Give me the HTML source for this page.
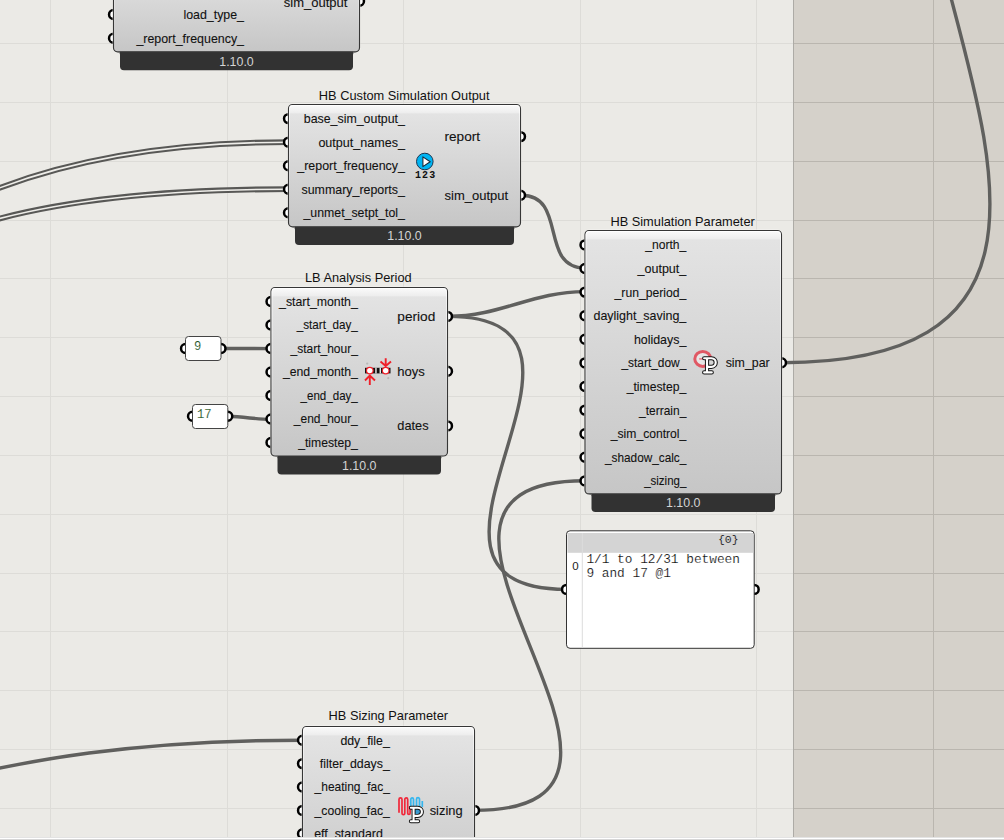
<!DOCTYPE html>
<html><head><meta charset="utf-8"><title>Grasshopper canvas</title>
<style>html,body{margin:0;padding:0;background:#ebeae6;overflow:hidden}svg{display:block}</style>
</head><body>
<svg width="1004" height="840" viewBox="0 0 1004 840">
<defs>
<linearGradient id="bg" x1="0" y1="0" x2="0" y2="1">
<stop offset="0" stop-color="#f6f6f6"/>
<stop offset="0.05" stop-color="#e4e4e4"/>
<stop offset="1" stop-color="#c8c8c8"/>
</linearGradient>
</defs>
<defs><linearGradient id="g1" gradientUnits="userSpaceOnUse" x1="0" y1="-40.00" x2="0" y2="51.80"><stop offset="0" stop-color="#fbfbfb"/><stop offset="0.0871" stop-color="#eeeeee"/><stop offset="0.1035" stop-color="#e3e3e3"/><stop offset="1" stop-color="#c6c6c6"/></linearGradient><linearGradient id="h1" gradientUnits="userSpaceOnUse" x1="0" y1="-40.00" x2="0" y2="51.80"><stop offset="0" stop-color="#fff" stop-opacity="1"/><stop offset="0.1307" stop-color="#fff" stop-opacity="0.7"/><stop offset="1" stop-color="#fff" stop-opacity="0"/></linearGradient><linearGradient id="g2" gradientUnits="userSpaceOnUse" x1="0" y1="104.50" x2="0" y2="226.80"><stop offset="0" stop-color="#fbfbfb"/><stop offset="0.0654" stop-color="#eeeeee"/><stop offset="0.0777" stop-color="#e3e3e3"/><stop offset="1" stop-color="#c6c6c6"/></linearGradient><linearGradient id="h2" gradientUnits="userSpaceOnUse" x1="0" y1="104.50" x2="0" y2="226.80"><stop offset="0" stop-color="#fff" stop-opacity="1"/><stop offset="0.0981" stop-color="#fff" stop-opacity="0.7"/><stop offset="1" stop-color="#fff" stop-opacity="0"/></linearGradient><linearGradient id="g3" gradientUnits="userSpaceOnUse" x1="0" y1="287.50" x2="0" y2="456.00"><stop offset="0" stop-color="#fbfbfb"/><stop offset="0.0475" stop-color="#eeeeee"/><stop offset="0.0564" stop-color="#e3e3e3"/><stop offset="1" stop-color="#c6c6c6"/></linearGradient><linearGradient id="h3" gradientUnits="userSpaceOnUse" x1="0" y1="287.50" x2="0" y2="456.00"><stop offset="0" stop-color="#fff" stop-opacity="1"/><stop offset="0.0712" stop-color="#fff" stop-opacity="0.7"/><stop offset="1" stop-color="#fff" stop-opacity="0"/></linearGradient><linearGradient id="g4" gradientUnits="userSpaceOnUse" x1="0" y1="230.50" x2="0" y2="493.90"><stop offset="0" stop-color="#fbfbfb"/><stop offset="0.0304" stop-color="#eeeeee"/><stop offset="0.0361" stop-color="#e3e3e3"/><stop offset="1" stop-color="#c6c6c6"/></linearGradient><linearGradient id="h4" gradientUnits="userSpaceOnUse" x1="0" y1="230.50" x2="0" y2="493.90"><stop offset="0" stop-color="#fff" stop-opacity="1"/><stop offset="0.0456" stop-color="#fff" stop-opacity="0.7"/><stop offset="1" stop-color="#fff" stop-opacity="0"/></linearGradient><linearGradient id="g5" gradientUnits="userSpaceOnUse" x1="0" y1="726.50" x2="0" y2="900.00"><stop offset="0" stop-color="#fbfbfb"/><stop offset="0.0461" stop-color="#eeeeee"/><stop offset="0.0548" stop-color="#e3e3e3"/><stop offset="1" stop-color="#c6c6c6"/></linearGradient><linearGradient id="h5" gradientUnits="userSpaceOnUse" x1="0" y1="726.50" x2="0" y2="900.00"><stop offset="0" stop-color="#fff" stop-opacity="1"/><stop offset="0.0692" stop-color="#fff" stop-opacity="0.7"/><stop offset="1" stop-color="#fff" stop-opacity="0"/></linearGradient></defs>
<rect x="0" y="0" width="1004" height="840" fill="#ebeae6"/>
<rect x="793" y="0" width="211" height="840" fill="#d5d1ca"/>
<rect x="50" y="0" width="1" height="840" fill="#dddcd8"/>
<rect x="227" y="0" width="1" height="840" fill="#dddcd8"/>
<rect x="403" y="0" width="1" height="840" fill="#dddcd8"/>
<rect x="580" y="0" width="1" height="840" fill="#dddcd8"/>
<rect x="756" y="0" width="1" height="840" fill="#dddcd8"/>
<rect x="933" y="0" width="1" height="840" fill="#bab6af"/>
<rect x="0" y="43" width="793" height="1" fill="#dddcd8"/>
<rect x="793" y="43" width="211" height="1" fill="#bab6af"/>
<rect x="0" y="102" width="793" height="1" fill="#dddcd8"/>
<rect x="793" y="102" width="211" height="1" fill="#bab6af"/>
<rect x="0" y="161" width="793" height="1" fill="#dddcd8"/>
<rect x="793" y="161" width="211" height="1" fill="#bab6af"/>
<rect x="0" y="220" width="793" height="1" fill="#dddcd8"/>
<rect x="793" y="220" width="211" height="1" fill="#bab6af"/>
<rect x="0" y="278" width="793" height="1" fill="#dddcd8"/>
<rect x="793" y="278" width="211" height="1" fill="#bab6af"/>
<rect x="0" y="337" width="793" height="1" fill="#dddcd8"/>
<rect x="793" y="337" width="211" height="1" fill="#bab6af"/>
<rect x="0" y="396" width="793" height="1" fill="#dddcd8"/>
<rect x="793" y="396" width="211" height="1" fill="#bab6af"/>
<rect x="0" y="455" width="793" height="1" fill="#dddcd8"/>
<rect x="793" y="455" width="211" height="1" fill="#bab6af"/>
<rect x="0" y="514" width="793" height="1" fill="#dddcd8"/>
<rect x="793" y="514" width="211" height="1" fill="#bab6af"/>
<rect x="0" y="573" width="793" height="1" fill="#dddcd8"/>
<rect x="793" y="573" width="211" height="1" fill="#bab6af"/>
<rect x="0" y="631" width="793" height="1" fill="#dddcd8"/>
<rect x="793" y="631" width="211" height="1" fill="#bab6af"/>
<rect x="0" y="690" width="793" height="1" fill="#dddcd8"/>
<rect x="793" y="690" width="211" height="1" fill="#bab6af"/>
<rect x="0" y="749" width="793" height="1" fill="#dddcd8"/>
<rect x="793" y="749" width="211" height="1" fill="#bab6af"/>
<rect x="0" y="808" width="793" height="1" fill="#dddcd8"/>
<rect x="793" y="808" width="211" height="1" fill="#bab6af"/>
<rect x="793" y="0" width="1" height="840" fill="#adaba6"/>
<path d="M521.40,195.20 C567.70,195.20 538.70,268.00 585.00,268.00" fill="none" stroke="#60605e" stroke-width="3.4"/>
<path d="M448.00,316.40 C501.00,316.40 532.00,291.60 585.00,291.60" fill="none" stroke="#60605e" stroke-width="3.4"/>
<path d="M448.00,316.40 C646.30,316.40 364.00,589.40 566.50,589.40" fill="none" stroke="#60605e" stroke-width="3.4"/>
<path d="M474.50,810.40 C718.50,810.40 341.00,480.80 585.00,480.80" fill="none" stroke="#60605e" stroke-width="3.4"/>
<path d="M782.00,362.70 C1099.70,362.70 970.45,109.35 926.95,-100.18" fill="none" stroke="#60605e" stroke-width="3.4"/>
<path d="M-107.50,787.30 C-54.40,787.30 46.30,740.20 302.50,740.20" fill="none" stroke="#60605e" stroke-width="3.4"/>
<path d="M-113.40,251.60 C-113.40,251.60 -5.40,142.20 288.00,142.20" fill="none" stroke="#585856" stroke-width="5.8"/>
<path d="M-113.40,251.60 C-113.40,251.60 -5.40,142.20 288.00,142.20" fill="none" stroke="#eeede9" stroke-width="1.6"/>
<path d="M-124.50,276.50 C-121.30,276.50 -58.00,189.20 288.00,189.20" fill="none" stroke="#585856" stroke-width="5.8"/>
<path d="M-124.50,276.50 C-121.30,276.50 -58.00,189.20 288.00,189.20" fill="none" stroke="#eeede9" stroke-width="1.6"/>
<path d="M221.00,348.50 C240.00,348.50 252.00,348.60 271.00,348.60" fill="none" stroke="#60605e" stroke-width="3.4"/>
<path d="M227.80,416.30 C245.00,416.80 255.00,419.20 271.00,419.50" fill="none" stroke="#60605e" stroke-width="3.4"/>
<circle cx="113.50" cy="-9.20" r="4.45" fill="#ffffff" stroke="#000" stroke-width="2.5"/>
<circle cx="113.50" cy="14.50" r="4.45" fill="#ffffff" stroke="#000" stroke-width="2.5"/>
<circle cx="113.50" cy="38.20" r="4.45" fill="#ffffff" stroke="#000" stroke-width="2.5"/>
<circle cx="359.50" cy="1.20" r="4.45" fill="#ffffff" stroke="#000" stroke-width="2.5"/>
<path d="M353.00,51.80 L353.00,54.50 Q353.00,52.30 355.20,52.30 L355.20,51.80 Z" fill="#323232"/>
<path d="M120.00,51.80 L120.00,54.50 Q120.00,52.30 117.80,52.30 L117.80,51.80 Z" fill="#323232"/>
<rect x="113.00" y="-40.50" width="247.00" height="92.80" rx="4.5" fill="none" stroke="#faf9f5" stroke-opacity="0.7" stroke-width="1"/>
<path d="M120.00,47.80 L353.00,47.80 L353.00,66.30 Q353.00,70.30 349.00,70.30 L124.00,70.30 Q120.00,70.30 120.00,66.30 Z" fill="#323232"/>
<rect x="113.50" y="-40.00" width="246.00" height="91.80" rx="4" fill="url(#g1)" stroke="#363636" stroke-width="1.15"/>
<rect x="114.50" y="-39.00" width="244.00" height="89.80" rx="3" fill="none" stroke="url(#h1)" stroke-width="1"/>
<text x="244.00" y="-4.80" font-family='"Liberation Sans", sans-serif' font-size="13.2" fill="#111" stroke="#111" stroke-width="0.1" text-anchor="end" textLength="0.00" lengthAdjust="spacingAndGlyphs"></text>
<text x="244.00" y="18.90" font-family='"Liberation Sans", sans-serif' font-size="13.2" fill="#111" stroke="#111" stroke-width="0.1" text-anchor="end" textLength="60.60" lengthAdjust="spacingAndGlyphs">load_type_</text>
<text x="244.00" y="42.60" font-family='"Liberation Sans", sans-serif' font-size="13.2" fill="#111" stroke="#111" stroke-width="0.1" text-anchor="end" textLength="107.60" lengthAdjust="spacingAndGlyphs">_report_frequency_</text>
<text x="283.80" y="6.60" font-family='"Liberation Sans", sans-serif' font-size="13.2" fill="#111" stroke="#111" stroke-width="0.1" text-anchor="start" textLength="63.60" lengthAdjust="spacingAndGlyphs">sim_output</text>
<text x="236.50" y="65.50" font-family='"Liberation Sans", sans-serif' font-size="12.4" fill="#d4d4d4" stroke="#d4d4d4" stroke-width="0" text-anchor="middle">1.10.0</text>
<text x="404.20" y="99.50" font-family='"Liberation Sans", sans-serif' font-size="12.8" fill="#111" stroke="#111" stroke-width="0" text-anchor="middle">HB Custom Simulation Output</text>
<circle cx="288.50" cy="118.60" r="4.45" fill="#ffffff" stroke="#000" stroke-width="2.5"/>
<circle cx="288.50" cy="142.15" r="4.45" fill="#ffffff" stroke="#000" stroke-width="2.5"/>
<circle cx="288.50" cy="165.70" r="4.45" fill="#ffffff" stroke="#000" stroke-width="2.5"/>
<circle cx="288.50" cy="189.25" r="4.45" fill="#ffffff" stroke="#000" stroke-width="2.5"/>
<circle cx="288.50" cy="212.80" r="4.45" fill="#ffffff" stroke="#000" stroke-width="2.5"/>
<circle cx="520.50" cy="136.60" r="4.45" fill="#ffffff" stroke="#000" stroke-width="2.5"/>
<circle cx="520.50" cy="195.20" r="4.45" fill="#ffffff" stroke="#000" stroke-width="2.5"/>
<path d="M514.00,226.80 L514.00,229.50 Q514.00,227.30 516.20,227.30 L516.20,226.80 Z" fill="#323232"/>
<path d="M295.00,226.80 L295.00,229.50 Q295.00,227.30 292.80,227.30 L292.80,226.80 Z" fill="#323232"/>
<rect x="288.00" y="104.00" width="233.00" height="123.30" rx="4.5" fill="none" stroke="#faf9f5" stroke-opacity="0.7" stroke-width="1"/>
<path d="M295.00,222.80 L514.00,222.80 L514.00,241.00 Q514.00,245.00 510.00,245.00 L299.00,245.00 Q295.00,245.00 295.00,241.00 Z" fill="#323232"/>
<rect x="288.50" y="104.50" width="232.00" height="122.30" rx="4" fill="url(#g2)" stroke="#363636" stroke-width="1.15"/>
<rect x="289.50" y="105.50" width="230.00" height="120.30" rx="3" fill="none" stroke="url(#h2)" stroke-width="1"/>
<text x="404.90" y="123.00" font-family='"Liberation Sans", sans-serif' font-size="13.2" fill="#111" stroke="#111" stroke-width="0.1" text-anchor="end" textLength="101.10" lengthAdjust="spacingAndGlyphs">base_sim_output_</text>
<text x="404.90" y="146.55" font-family='"Liberation Sans", sans-serif' font-size="13.2" fill="#111" stroke="#111" stroke-width="0.1" text-anchor="end" textLength="86.50" lengthAdjust="spacingAndGlyphs">output_names_</text>
<text x="404.90" y="170.10" font-family='"Liberation Sans", sans-serif' font-size="13.2" fill="#111" stroke="#111" stroke-width="0.1" text-anchor="end" textLength="107.60" lengthAdjust="spacingAndGlyphs">_report_frequency_</text>
<text x="404.90" y="193.65" font-family='"Liberation Sans", sans-serif' font-size="13.2" fill="#111" stroke="#111" stroke-width="0.1" text-anchor="end" textLength="103.40" lengthAdjust="spacingAndGlyphs">summary_reports_</text>
<text x="404.90" y="217.20" font-family='"Liberation Sans", sans-serif' font-size="13.2" fill="#111" stroke="#111" stroke-width="0.1" text-anchor="end" textLength="101.40" lengthAdjust="spacingAndGlyphs">_unmet_setpt_tol_</text>
<text x="444.50" y="141.00" font-family='"Liberation Sans", sans-serif' font-size="13.2" fill="#111" stroke="#111" stroke-width="0.1" text-anchor="start" textLength="35.60" lengthAdjust="spacingAndGlyphs">report</text>
<text x="444.50" y="199.60" font-family='"Liberation Sans", sans-serif' font-size="13.2" fill="#111" stroke="#111" stroke-width="0.1" text-anchor="start" textLength="63.60" lengthAdjust="spacingAndGlyphs">sim_output</text>
<text x="404.50" y="240.20" font-family='"Liberation Sans", sans-serif' font-size="12.4" fill="#d4d4d4" stroke="#d4d4d4" stroke-width="0" text-anchor="middle">1.10.0</text>
<text x="358.30" y="281.80" font-family='"Liberation Sans", sans-serif' font-size="12.8" fill="#111" stroke="#111" stroke-width="0" text-anchor="middle">LB Analysis Period</text>
<circle cx="271.00" cy="301.50" r="4.45" fill="#ffffff" stroke="#000" stroke-width="2.5"/>
<circle cx="271.00" cy="325.00" r="4.45" fill="#ffffff" stroke="#000" stroke-width="2.5"/>
<circle cx="271.00" cy="348.50" r="4.45" fill="#ffffff" stroke="#000" stroke-width="2.5"/>
<circle cx="271.00" cy="372.00" r="4.45" fill="#ffffff" stroke="#000" stroke-width="2.5"/>
<circle cx="271.00" cy="395.50" r="4.45" fill="#ffffff" stroke="#000" stroke-width="2.5"/>
<circle cx="271.00" cy="419.00" r="4.45" fill="#ffffff" stroke="#000" stroke-width="2.5"/>
<circle cx="271.00" cy="442.50" r="4.45" fill="#ffffff" stroke="#000" stroke-width="2.5"/>
<circle cx="447.50" cy="316.40" r="4.45" fill="#ffffff" stroke="#000" stroke-width="2.5"/>
<circle cx="447.50" cy="371.30" r="4.45" fill="#ffffff" stroke="#000" stroke-width="2.5"/>
<circle cx="447.50" cy="425.90" r="4.45" fill="#ffffff" stroke="#000" stroke-width="2.5"/>
<path d="M441.00,456.00 L441.00,458.70 Q441.00,456.50 443.20,456.50 L443.20,456.00 Z" fill="#323232"/>
<path d="M277.50,456.00 L277.50,458.70 Q277.50,456.50 275.30,456.50 L275.30,456.00 Z" fill="#323232"/>
<rect x="270.50" y="287.00" width="177.50" height="169.50" rx="4.5" fill="none" stroke="#faf9f5" stroke-opacity="0.7" stroke-width="1"/>
<path d="M277.50,452.00 L441.00,452.00 L441.00,470.60 Q441.00,474.60 437.00,474.60 L281.50,474.60 Q277.50,474.60 277.50,470.60 Z" fill="#323232"/>
<rect x="271.00" y="287.50" width="176.50" height="168.50" rx="4" fill="url(#g3)" stroke="#363636" stroke-width="1.15"/>
<rect x="272.00" y="288.50" width="174.50" height="166.50" rx="3" fill="none" stroke="url(#h3)" stroke-width="1"/>
<text x="357.80" y="305.90" font-family='"Liberation Sans", sans-serif' font-size="13.2" fill="#111" stroke="#111" stroke-width="0.1" text-anchor="end" textLength="78.70" lengthAdjust="spacingAndGlyphs">_start_month_</text>
<text x="357.80" y="329.40" font-family='"Liberation Sans", sans-serif' font-size="13.2" fill="#111" stroke="#111" stroke-width="0.1" text-anchor="end" textLength="61.00" lengthAdjust="spacingAndGlyphs">_start_day_</text>
<text x="357.80" y="352.90" font-family='"Liberation Sans", sans-serif' font-size="13.2" fill="#111" stroke="#111" stroke-width="0.1" text-anchor="end" textLength="67.30" lengthAdjust="spacingAndGlyphs">_start_hour_</text>
<text x="357.80" y="376.40" font-family='"Liberation Sans", sans-serif' font-size="13.2" fill="#111" stroke="#111" stroke-width="0.1" text-anchor="end" textLength="74.90" lengthAdjust="spacingAndGlyphs">_end_month_</text>
<text x="357.80" y="399.90" font-family='"Liberation Sans", sans-serif' font-size="13.2" fill="#111" stroke="#111" stroke-width="0.1" text-anchor="end" textLength="57.20" lengthAdjust="spacingAndGlyphs">_end_day_</text>
<text x="357.80" y="423.40" font-family='"Liberation Sans", sans-serif' font-size="13.2" fill="#111" stroke="#111" stroke-width="0.1" text-anchor="end" textLength="64.00" lengthAdjust="spacingAndGlyphs">_end_hour_</text>
<text x="357.80" y="446.90" font-family='"Liberation Sans", sans-serif' font-size="13.2" fill="#111" stroke="#111" stroke-width="0.1" text-anchor="end" textLength="59.60" lengthAdjust="spacingAndGlyphs">_timestep_</text>
<text x="397.30" y="320.80" font-family='"Liberation Sans", sans-serif' font-size="13.2" fill="#111" stroke="#111" stroke-width="0.1" text-anchor="start" textLength="38.00" lengthAdjust="spacingAndGlyphs">period</text>
<text x="397.30" y="375.70" font-family='"Liberation Sans", sans-serif' font-size="13.2" fill="#111" stroke="#111" stroke-width="0.1" text-anchor="start" textLength="27.60" lengthAdjust="spacingAndGlyphs">hoys</text>
<text x="397.30" y="430.30" font-family='"Liberation Sans", sans-serif' font-size="13.2" fill="#111" stroke="#111" stroke-width="0.1" text-anchor="start" textLength="31.30" lengthAdjust="spacingAndGlyphs">dates</text>
<text x="359.25" y="469.80" font-family='"Liberation Sans", sans-serif' font-size="12.4" fill="#d4d4d4" stroke="#d4d4d4" stroke-width="0" text-anchor="middle">1.10.0</text>
<text x="682.60" y="225.60" font-family='"Liberation Sans", sans-serif' font-size="12.8" fill="#111" stroke="#111" stroke-width="0" text-anchor="middle">HB Simulation Parameter</text>
<circle cx="585.00" cy="244.90" r="4.45" fill="#ffffff" stroke="#000" stroke-width="2.5"/>
<circle cx="585.00" cy="268.50" r="4.45" fill="#ffffff" stroke="#000" stroke-width="2.5"/>
<circle cx="585.00" cy="292.10" r="4.45" fill="#ffffff" stroke="#000" stroke-width="2.5"/>
<circle cx="585.00" cy="315.70" r="4.45" fill="#ffffff" stroke="#000" stroke-width="2.5"/>
<circle cx="585.00" cy="339.30" r="4.45" fill="#ffffff" stroke="#000" stroke-width="2.5"/>
<circle cx="585.00" cy="362.90" r="4.45" fill="#ffffff" stroke="#000" stroke-width="2.5"/>
<circle cx="585.00" cy="386.50" r="4.45" fill="#ffffff" stroke="#000" stroke-width="2.5"/>
<circle cx="585.00" cy="410.10" r="4.45" fill="#ffffff" stroke="#000" stroke-width="2.5"/>
<circle cx="585.00" cy="433.70" r="4.45" fill="#ffffff" stroke="#000" stroke-width="2.5"/>
<circle cx="585.00" cy="457.30" r="4.45" fill="#ffffff" stroke="#000" stroke-width="2.5"/>
<circle cx="585.00" cy="480.90" r="4.45" fill="#ffffff" stroke="#000" stroke-width="2.5"/>
<circle cx="781.50" cy="362.70" r="4.45" fill="#ffffff" stroke="#000" stroke-width="2.5"/>
<path d="M775.00,493.90 L775.00,496.60 Q775.00,494.40 777.20,494.40 L777.20,493.90 Z" fill="#323232"/>
<path d="M591.50,493.90 L591.50,496.60 Q591.50,494.40 589.30,494.40 L589.30,493.90 Z" fill="#323232"/>
<rect x="584.50" y="230.00" width="197.50" height="264.40" rx="4.5" fill="none" stroke="#faf9f5" stroke-opacity="0.7" stroke-width="1"/>
<path d="M591.50,489.90 L775.00,489.90 L775.00,508.00 Q775.00,512.00 771.00,512.00 L595.50,512.00 Q591.50,512.00 591.50,508.00 Z" fill="#323232"/>
<rect x="585.00" y="230.50" width="196.50" height="263.40" rx="4" fill="url(#g4)" stroke="#363636" stroke-width="1.15"/>
<rect x="586.00" y="231.50" width="194.50" height="261.40" rx="3" fill="none" stroke="url(#h4)" stroke-width="1"/>
<text x="686.30" y="249.30" font-family='"Liberation Sans", sans-serif' font-size="13.2" fill="#111" stroke="#111" stroke-width="0.1" text-anchor="end" textLength="41.00" lengthAdjust="spacingAndGlyphs">_north_</text>
<text x="686.30" y="272.90" font-family='"Liberation Sans", sans-serif' font-size="13.2" fill="#111" stroke="#111" stroke-width="0.1" text-anchor="end" textLength="48.80" lengthAdjust="spacingAndGlyphs">_output_</text>
<text x="686.30" y="296.50" font-family='"Liberation Sans", sans-serif' font-size="13.2" fill="#111" stroke="#111" stroke-width="0.1" text-anchor="end" textLength="71.70" lengthAdjust="spacingAndGlyphs">_run_period_</text>
<text x="686.30" y="320.10" font-family='"Liberation Sans", sans-serif' font-size="13.2" fill="#111" stroke="#111" stroke-width="0.1" text-anchor="end" textLength="92.80" lengthAdjust="spacingAndGlyphs">daylight_saving_</text>
<text x="686.30" y="343.70" font-family='"Liberation Sans", sans-serif' font-size="13.2" fill="#111" stroke="#111" stroke-width="0.1" text-anchor="end" textLength="52.40" lengthAdjust="spacingAndGlyphs">holidays_</text>
<text x="686.30" y="367.30" font-family='"Liberation Sans", sans-serif' font-size="13.2" fill="#111" stroke="#111" stroke-width="0.1" text-anchor="end" textLength="64.90" lengthAdjust="spacingAndGlyphs">_start_dow_</text>
<text x="686.30" y="390.90" font-family='"Liberation Sans", sans-serif' font-size="13.2" fill="#111" stroke="#111" stroke-width="0.1" text-anchor="end" textLength="59.60" lengthAdjust="spacingAndGlyphs">_timestep_</text>
<text x="686.30" y="414.50" font-family='"Liberation Sans", sans-serif' font-size="13.2" fill="#111" stroke="#111" stroke-width="0.1" text-anchor="end" textLength="47.20" lengthAdjust="spacingAndGlyphs">_terrain_</text>
<text x="686.30" y="438.10" font-family='"Liberation Sans", sans-serif' font-size="13.2" fill="#111" stroke="#111" stroke-width="0.1" text-anchor="end" textLength="75.50" lengthAdjust="spacingAndGlyphs">_sim_control_</text>
<text x="686.30" y="461.70" font-family='"Liberation Sans", sans-serif' font-size="13.2" fill="#111" stroke="#111" stroke-width="0.1" text-anchor="end" textLength="81.30" lengthAdjust="spacingAndGlyphs">_shadow_calc_</text>
<text x="686.30" y="485.30" font-family='"Liberation Sans", sans-serif' font-size="13.2" fill="#111" stroke="#111" stroke-width="0.1" text-anchor="end" textLength="42.10" lengthAdjust="spacingAndGlyphs">_sizing_</text>
<text x="725.70" y="367.10" font-family='"Liberation Sans", sans-serif' font-size="13.2" fill="#111" stroke="#111" stroke-width="0.1" text-anchor="start" textLength="44.00" lengthAdjust="spacingAndGlyphs">sim_par</text>
<text x="683.25" y="507.20" font-family='"Liberation Sans", sans-serif' font-size="12.4" fill="#d4d4d4" stroke="#d4d4d4" stroke-width="0" text-anchor="middle">1.10.0</text>
<text x="388.30" y="720.40" font-family='"Liberation Sans", sans-serif' font-size="12.8" fill="#111" stroke="#111" stroke-width="0" text-anchor="middle">HB Sizing Parameter</text>
<circle cx="302.50" cy="740.20" r="4.45" fill="#ffffff" stroke="#000" stroke-width="2.5"/>
<circle cx="302.50" cy="763.60" r="4.45" fill="#ffffff" stroke="#000" stroke-width="2.5"/>
<circle cx="302.50" cy="787.00" r="4.45" fill="#ffffff" stroke="#000" stroke-width="2.5"/>
<circle cx="302.50" cy="810.40" r="4.45" fill="#ffffff" stroke="#000" stroke-width="2.5"/>
<circle cx="302.50" cy="833.80" r="4.45" fill="#ffffff" stroke="#000" stroke-width="2.5"/>
<circle cx="474.50" cy="810.40" r="4.45" fill="#ffffff" stroke="#000" stroke-width="2.5"/>
<path d="M468.00,900.00 L468.00,902.70 Q468.00,900.50 470.20,900.50 L470.20,900.00 Z" fill="#323232"/>
<path d="M309.00,900.00 L309.00,902.70 Q309.00,900.50 306.80,900.50 L306.80,900.00 Z" fill="#323232"/>
<rect x="302.00" y="726.00" width="173.00" height="174.50" rx="4.5" fill="none" stroke="#faf9f5" stroke-opacity="0.7" stroke-width="1"/>
<path d="M309.00,896.00 L468.00,896.00 L468.00,914.00 Q468.00,918.00 464.00,918.00 L313.00,918.00 Q309.00,918.00 309.00,914.00 Z" fill="#323232"/>
<rect x="302.50" y="726.50" width="172.00" height="173.50" rx="4" fill="url(#g5)" stroke="#363636" stroke-width="1.15"/>
<rect x="303.50" y="727.50" width="170.00" height="171.50" rx="3" fill="none" stroke="url(#h5)" stroke-width="1"/>
<text x="389.80" y="744.60" font-family='"Liberation Sans", sans-serif' font-size="13.2" fill="#111" stroke="#111" stroke-width="0.1" text-anchor="end" textLength="49.40" lengthAdjust="spacingAndGlyphs">ddy_file_</text>
<text x="389.80" y="768.00" font-family='"Liberation Sans", sans-serif' font-size="13.2" fill="#111" stroke="#111" stroke-width="0.1" text-anchor="end" textLength="70.00" lengthAdjust="spacingAndGlyphs">filter_ddays_</text>
<text x="389.80" y="791.40" font-family='"Liberation Sans", sans-serif' font-size="13.2" fill="#111" stroke="#111" stroke-width="0.1" text-anchor="end" textLength="75.20" lengthAdjust="spacingAndGlyphs">_heating_fac_</text>
<text x="389.80" y="814.80" font-family='"Liberation Sans", sans-serif' font-size="13.2" fill="#111" stroke="#111" stroke-width="0.1" text-anchor="end" textLength="75.20" lengthAdjust="spacingAndGlyphs">_cooling_fac_</text>
<text x="389.80" y="838.20" font-family='"Liberation Sans", sans-serif' font-size="13.2" fill="#111" stroke="#111" stroke-width="0.1" text-anchor="end" textLength="75.60" lengthAdjust="spacingAndGlyphs">eff_standard_</text>
<text x="429.70" y="814.80" font-family='"Liberation Sans", sans-serif' font-size="13.2" fill="#111" stroke="#111" stroke-width="0.1" text-anchor="start" textLength="32.90" lengthAdjust="spacingAndGlyphs">sizing</text>
<text x="388.50" y="913.20" font-family='"Liberation Sans", sans-serif' font-size="12.4" fill="#d4d4d4" stroke="#d4d4d4" stroke-width="0" text-anchor="middle">1.10.0</text>
<circle cx="185.50" cy="348.50" r="4.45" fill="#ffffff" stroke="#000" stroke-width="2.5"/>
<circle cx="221.00" cy="348.50" r="4.45" fill="#ffffff" stroke="#000" stroke-width="2.5"/>
<rect x="185.50" y="336.50" width="35.50" height="24.00" rx="3" fill="#ffffff" stroke="#444" stroke-width="1"/>
<text x="194.00" y="349.80" font-family='"Liberation Mono", monospace' font-size="12.2" fill="#1a4f1a" stroke="#fff" stroke-width="0.12">9</text>
<circle cx="192.50" cy="416.30" r="4.45" fill="#ffffff" stroke="#000" stroke-width="2.5"/>
<circle cx="227.80" cy="416.30" r="4.45" fill="#ffffff" stroke="#000" stroke-width="2.5"/>
<rect x="192.50" y="404.50" width="35.30" height="24.00" rx="3" fill="#ffffff" stroke="#444" stroke-width="1"/>
<text x="197.00" y="418.10" font-family='"Liberation Mono", monospace' font-size="12.2" fill="#1a4f1a" stroke="#fff" stroke-width="0.12">17</text>
<circle cx="566.50" cy="589.40" r="4.45" fill="#ffffff" stroke="#000" stroke-width="2.5"/>
<circle cx="754.20" cy="589.40" r="4.45" fill="#ffffff" stroke="#000" stroke-width="2.5"/>
<rect x="566.5" y="530.8" width="187.7" height="117.5" rx="3.5" fill="#ffffff" stroke="#333" stroke-width="1"/>
<rect x="567.5" y="533" width="185.7" height="19.8" fill="#d4d4d4"/>
<line x1="582.3" y1="533" x2="582.3" y2="647.5" stroke="#dcdcdc" stroke-width="1"/>
<text x="738.6" y="543.4" font-family='"Liberation Mono", monospace' font-size="11.5" fill="#000" stroke="#d4d4d4" stroke-width="0.2" text-anchor="end">{0}</text>
<text x="572.2" y="569.8" font-family='"Liberation Sans", sans-serif' font-size="11.5" fill="#222">0</text>
<text x="586.4" y="563.3" font-family='"Liberation Mono", monospace' font-size="12.8" fill="#000" stroke="#fff" stroke-width="0.2">1/1 to 12/31 between</text>
<text x="586.4" y="576.9" font-family='"Liberation Mono", monospace' font-size="12.8" fill="#000" stroke="#fff" stroke-width="0.2">9 and 17 @1</text>
<circle cx="424.8" cy="161.5" r="8.3" fill="#00b4f2" stroke="#1b3550" stroke-width="1"/>
<path d="M422.9,156.9 L422.9,166.6 L430.2,161.8 Z" fill="#fff" stroke="#1b2b3a" stroke-width="1.1" stroke-linejoin="round"/>
<text x="415" y="177.6" font-family='"Liberation Mono", monospace' font-size="10" font-weight="bold" fill="#111" letter-spacing="1.1">123</text>
<rect x="365" y="367.8" width="25.5" height="5.6" fill="#111"/>
<rect x="375.3" y="367.8" width="1.3" height="5.6" fill="#fff"/>
<rect x="379.6" y="367.8" width="1.3" height="5.6" fill="#fff"/>
<circle cx="367.2" cy="363.6" r="1.1" fill="#b8b8b8"/><circle cx="388.3" cy="378.2" r="1.1" fill="#b8b8b8"/>
<circle cx="369.8" cy="370.6" r="3.3" fill="#fff" stroke="#f0202a" stroke-width="1.2"/>
<circle cx="385.7" cy="370.6" r="3.3" fill="#fff" stroke="#f0202a" stroke-width="1.2"/>
<path d="M369.8,375 L369.8,385 M365,380.5 L369.8,375.5 L375,380.5" fill="none" stroke="#f0202a" stroke-width="1.9"/>
<path d="M385.7,358.2 L385.7,366.5 M380.5,361.5 L385.7,366 L391,361.5" fill="none" stroke="#f0202a" stroke-width="1.9"/>
<ellipse cx="702.8" cy="358.9" rx="8.0" ry="7.5" fill="#e6e6e6" stroke="#e05864" stroke-width="3"/>
<path d="M699.2,358.9 L703.5,358.9" stroke="#e8656f" stroke-width="1.3"/>
<g transform="translate(703.6,357.3) scale(0.95) translate(-704.0,-357.3)"><path d="M707.6,358.3 L712.2,358.3 C718.3,358.3 718.3,367.3 712.2,367.3 L707.6,367.3 Z" fill="#d6d6d6"/><path d="M704.6,358.3 L712.2,358.3 C718.3,358.3 718.3,367.3 712.2,367.3 L707.6,367.3 M707.6,358.3 L707.6,373.2 M704.6,373.2 L712.6,373.2" fill="none" stroke="#151515" stroke-width="4.4" stroke-linecap="round" stroke-linejoin="round"/><path d="M704.6,358.3 L712.2,358.3 C718.3,358.3 718.3,367.3 712.2,367.3 L707.6,367.3 M707.6,358.3 L707.6,373.2 M704.6,373.2 L712.6,373.2" fill="none" stroke="#ffffff" stroke-width="2.3" stroke-linecap="round" stroke-linejoin="round"/></g>
<path d="M399,812.8 L399,799.4 A1.5,1.5 0 0 1 402,799.4 L402,813.2 A1.4,1.4 0 0 0 404.8,813.2 L404.8,799.4 A1.45,1.45 0 0 1 407.7,799.4 L407.7,813.2 A1.2,1.2 0 0 0 410.1,813.2 L410.1,806" fill="none" stroke="#f0283a" stroke-width="1.7"/>
<path d="M410.8,806 L410.8,799.2 A1.35,1.35 0 0 1 413.5,799.2 L413.5,806 M416.5,806 L416.5,799.2 A1.5,1.5 0 0 1 419.5,799.2 L419.5,806 M422.3,807 L422.3,801" fill="none" stroke="#36b6ee" stroke-width="1.7"/>
<g transform="translate(410.3,806.8) scale(0.91) translate(-704.0,-357.3)"><path d="M707.6,358.3 L712.2,358.3 C718.3,358.3 718.3,367.3 712.2,367.3 L707.6,367.3 Z" fill="#3a9ad0"/><path d="M704.6,358.3 L712.2,358.3 C718.3,358.3 718.3,367.3 712.2,367.3 L707.6,367.3 M707.6,358.3 L707.6,373.2 M704.6,373.2 L712.6,373.2" fill="none" stroke="#151515" stroke-width="4.4" stroke-linecap="round" stroke-linejoin="round"/><path d="M704.6,358.3 L712.2,358.3 C718.3,358.3 718.3,367.3 712.2,367.3 L707.6,367.3 M707.6,358.3 L707.6,373.2 M704.6,373.2 L712.6,373.2" fill="none" stroke="#ffffff" stroke-width="2.3" stroke-linecap="round" stroke-linejoin="round"/></g>
<rect x="0" y="837" width="1004" height="1" fill="#e3e3e3"/>
<rect x="0" y="838" width="1004" height="1" fill="#ffffff"/>
<rect x="0" y="839" width="1004" height="1" fill="#d6d6d6"/>
</svg>
</body></html>
